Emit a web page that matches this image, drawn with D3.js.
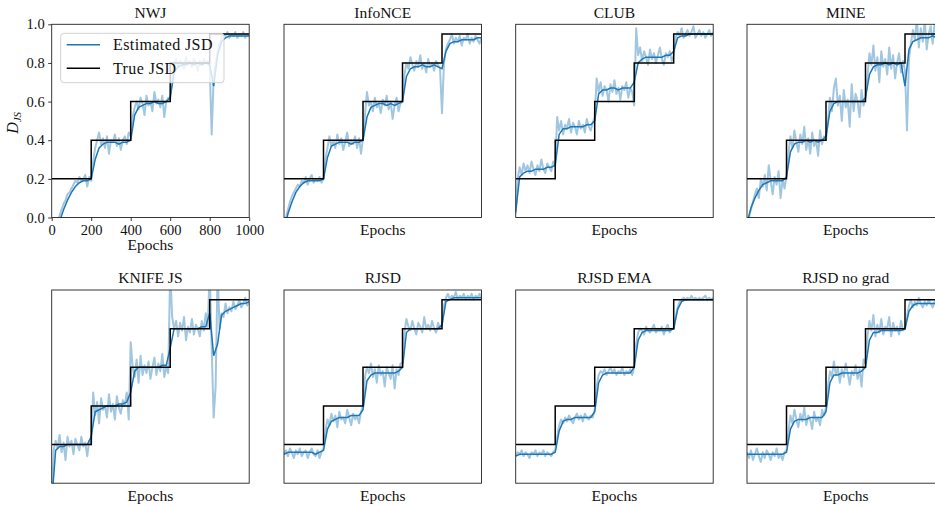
<!DOCTYPE html>
<html>
<head>
<meta charset="utf-8">
<script src="https://cdn.jsdelivr.net/npm/d3@7"></script>
<style>
  body { margin: 0; background: #fff; }
  text { font-family: "Liberation Serif", "DejaVu Serif", serif; fill: #111; }
</style>
</head>
<body>
<script>
// raw estimates every 10 epochs, smoothed every 20 epochs
var rawEpochs = d3.range(0, 1001, 10);
var smoothEpochs = d3.range(0, 1001, 20);
var trueEpochs = [0, 200, 400, 600, 800, 1000];
var trueJSD = [0.2, 0.4, 0.6, 0.8, 0.95, 0.95];

var titles = ["NWJ", "InfoNCE", "CLUB", "MINE", "KNIFE JS", "RJSD", "RJSD EMA", "RJSD no grad"];
var xTicks = [0, 200, 400, 600, 800, 1000];
var yTicks = [0, 0.2, 0.4, 0.6, 0.8, 1.0];

var nwjRaw = [
  -0.12,-0.08,-0.05,-0.02,0.01,0.04,0.07,0.09,0.12,0.13,0.15,0.17,0.19,0.18,0.21,0.19,0.2,0.22,0.16,0.21,
  0.19,0.29,0.36,0.4,0.44,0.38,0.41,0.36,0.42,0.33,0.4,0.39,0.43,0.37,0.41,0.35,0.4,0.42,0.38,0.44,
  0.42,0.52,0.57,0.6,0.56,0.62,0.59,0.53,0.63,0.58,0.6,0.55,0.65,0.59,0.61,0.57,0.63,0.52,0.6,0.62,
  0.61,0.74,0.79,0.82,0.78,0.81,0.8,0.77,0.83,0.79,0.81,0.78,0.82,0.8,0.76,0.81,0.79,0.82,0.8,0.81,
  0.78,0.43,0.72,0.8,0.86,0.9,0.93,0.95,0.94,0.96,0.93,0.95,0.94,0.96,0.93,0.95,0.94,0.96,0.93,0.95,0.94];
var nwjSmooth = [
  -0.2,-0.1,-0.02,0.04,0.09,0.13,0.16,0.18,0.19,0.19,
  0.2,0.3,0.36,0.38,0.39,0.39,0.39,0.38,0.39,0.39,
  0.4,0.53,0.57,0.58,0.59,0.59,0.6,0.59,0.59,0.6,
  0.62,0.75,0.78,0.79,0.79,0.8,0.79,0.8,0.79,0.8,
  0.79,0.68,0.84,0.91,0.93,0.94,0.94,0.94,0.94,0.94,0.94];

var infonceRaw = [
  -0.05,0.0,0.04,0.08,0.11,0.13,0.15,0.17,0.16,0.19,0.18,0.21,0.17,0.2,0.22,0.18,0.2,0.19,0.21,0.18,
  0.2,0.3,0.36,0.42,0.37,0.4,0.36,0.43,0.38,0.41,0.35,0.39,0.44,0.37,0.4,0.38,0.42,0.36,0.41,0.33,
  0.41,0.53,0.65,0.58,0.6,0.55,0.62,0.57,0.59,0.54,0.61,0.58,0.63,0.56,0.6,0.51,0.58,0.62,0.55,0.59,
  0.6,0.74,0.8,0.77,0.83,0.79,0.76,0.81,0.78,0.84,0.77,0.8,0.75,0.82,0.78,0.8,0.76,0.81,0.79,0.77,
  0.54,0.8,0.87,0.9,0.92,0.95,0.9,0.93,0.91,0.94,0.89,0.93,0.92,0.95,0.9,0.93,0.91,0.94,0.92,0.9,0.93];
var infonceSmooth = [
  -0.08,0.02,0.08,0.13,0.16,0.18,0.19,0.19,0.19,0.19,
  0.2,0.31,0.37,0.38,0.39,0.39,0.39,0.38,0.39,0.39,
  0.4,0.52,0.57,0.58,0.59,0.59,0.58,0.59,0.58,0.59,
  0.6,0.73,0.77,0.78,0.78,0.79,0.78,0.78,0.79,0.78,
  0.77,0.86,0.9,0.91,0.91,0.92,0.92,0.92,0.92,0.93,0.93];

var clubRaw = [
  0.02,0.2,0.26,0.22,0.28,0.24,0.27,0.23,0.29,0.25,0.22,0.27,0.24,0.3,0.25,0.23,0.28,0.26,0.24,0.29,
  0.27,0.52,0.45,0.5,0.43,0.48,0.46,0.51,0.44,0.49,0.47,0.43,0.5,0.46,0.48,0.44,0.51,0.47,0.45,0.49,
  0.52,0.72,0.65,0.7,0.63,0.68,0.66,0.6,0.69,0.65,0.71,0.64,0.67,0.61,0.68,0.66,0.7,0.62,0.67,0.65,
  0.58,0.98,0.84,0.88,0.81,0.86,0.83,0.79,0.87,0.82,0.85,0.8,0.84,0.88,0.82,0.79,0.85,0.83,0.86,0.81,
  0.84,0.93,0.96,0.94,0.98,0.93,0.95,0.97,0.94,0.96,0.99,0.93,0.95,0.97,0.94,0.96,0.93,0.95,0.97,0.94,0.96];
var clubSmooth = [
  0.03,0.21,0.23,0.24,0.24,0.25,0.25,0.25,0.26,0.26,
  0.27,0.43,0.46,0.46,0.47,0.47,0.47,0.47,0.48,0.48,
  0.5,0.64,0.66,0.66,0.67,0.67,0.66,0.67,0.67,0.67,
  0.7,0.8,0.82,0.83,0.83,0.83,0.83,0.83,0.84,0.84,
  0.86,0.93,0.94,0.94,0.95,0.95,0.95,0.95,0.95,0.95,0.95];

var mineRaw = [
  -0.06,0.0,0.04,0.08,0.12,0.15,0.1,0.2,0.16,0.22,0.14,0.27,0.19,0.12,0.21,0.17,0.24,0.1,0.2,0.15,
  0.22,0.33,0.42,0.36,0.45,0.39,0.34,0.43,0.38,0.47,0.35,0.41,0.33,0.44,0.37,0.4,0.32,0.45,0.38,0.42,
  0.4,0.5,0.62,0.55,0.67,0.72,0.58,0.63,0.5,0.66,0.57,0.61,0.47,0.69,0.55,0.64,0.6,0.52,0.66,0.58,
  0.62,0.73,0.85,0.79,0.89,0.76,0.83,0.7,0.86,0.78,0.82,0.74,0.88,0.77,0.84,0.72,0.8,0.85,0.75,0.81,
  0.76,0.45,0.82,0.9,0.97,0.92,1.03,0.88,0.98,0.91,1.02,0.87,0.95,0.99,0.9,1.01,0.93,0.96,0.89,1.0,0.94];
var mineSmooth = [
  -0.03,0.05,0.1,0.14,0.17,0.18,0.19,0.19,0.19,0.19,
  0.21,0.34,0.38,0.39,0.39,0.4,0.39,0.4,0.39,0.4,
  0.42,0.55,0.59,0.6,0.6,0.6,0.6,0.6,0.6,0.6,
  0.62,0.74,0.78,0.79,0.79,0.8,0.79,0.8,0.79,0.8,
  0.68,0.87,0.91,0.92,0.93,0.93,0.93,0.94,0.93,0.94,0.94];

var knifeRaw = [
  -0.1,0.17,0.22,0.18,0.25,0.16,0.21,0.12,0.24,0.19,0.22,0.15,0.23,0.2,0.17,0.24,0.19,0.21,0.14,0.22,
  0.2,0.47,0.35,0.42,0.31,0.44,0.38,0.4,0.34,0.46,0.37,0.41,0.33,0.45,0.39,0.36,0.43,0.4,0.47,0.33,
  0.73,0.6,0.55,0.64,0.52,0.66,0.56,0.61,0.57,0.63,0.54,0.6,0.65,0.56,0.62,0.58,0.67,0.55,0.6,0.57,
  1.1,0.86,0.8,0.84,0.76,0.83,0.79,0.86,0.74,0.81,0.78,0.85,0.77,0.82,0.8,0.76,0.84,0.79,0.88,0.81,
  1.1,0.7,0.34,0.5,1.1,0.8,0.88,0.86,0.93,0.88,0.91,0.89,0.94,0.9,0.92,0.95,0.91,0.93,0.96,0.92,0.94];
var knifeSmooth = [
  -0.1,0.17,0.19,0.19,0.2,0.2,0.2,0.2,0.2,0.2,
  0.24,0.37,0.38,0.39,0.4,0.4,0.4,0.41,0.41,0.42,
  0.47,0.58,0.6,0.6,0.6,0.6,0.6,0.6,0.61,0.61,
  0.7,0.8,0.8,0.8,0.8,0.8,0.8,0.8,0.81,0.81,
  0.88,0.66,0.72,0.87,0.89,0.9,0.91,0.92,0.93,0.93,0.94];

var rjsdRaw = [
  0.15,0.17,0.14,0.18,0.16,0.13,0.17,0.15,0.18,0.14,0.16,0.17,0.13,0.16,0.18,0.15,0.14,0.17,0.13,0.16,
  0.18,0.27,0.33,0.3,0.36,0.32,0.35,0.29,0.37,0.33,0.34,0.31,0.38,0.34,0.3,0.36,0.33,0.35,0.31,0.37,
  0.4,0.55,0.6,0.57,0.62,0.55,0.59,0.52,0.61,0.56,0.58,0.5,0.6,0.57,0.54,0.61,0.49,0.59,0.56,0.62,
  0.62,0.78,0.85,0.81,0.79,0.84,0.8,0.77,0.83,0.81,0.78,0.86,0.8,0.82,0.79,0.84,0.8,0.78,0.83,0.8,
  0.82,0.92,0.96,0.98,0.95,0.97,0.96,0.99,0.95,0.97,0.96,0.98,0.95,0.97,0.96,0.98,0.95,0.97,0.96,0.98,0.96];
var rjsdSmooth = [
  0.15,0.16,0.16,0.16,0.16,0.16,0.16,0.16,0.15,0.16,
  0.17,0.28,0.32,0.33,0.34,0.34,0.34,0.35,0.35,0.35,
  0.38,0.53,0.56,0.57,0.57,0.57,0.57,0.57,0.57,0.58,
  0.6,0.78,0.8,0.8,0.8,0.8,0.8,0.8,0.8,0.8,
  0.82,0.94,0.95,0.96,0.96,0.96,0.96,0.96,0.96,0.96,0.96];

var emaRaw = [
  0.14,0.16,0.15,0.17,0.14,0.16,0.15,0.13,0.16,0.15,0.17,0.14,0.16,0.15,0.17,0.14,0.16,0.15,0.14,0.16,
  0.17,0.24,0.3,0.33,0.31,0.34,0.32,0.35,0.33,0.31,0.34,0.36,0.33,0.35,0.32,0.36,0.34,0.33,0.35,0.34,
  0.38,0.5,0.56,0.58,0.57,0.59,0.56,0.58,0.6,0.57,0.59,0.56,0.58,0.57,0.6,0.56,0.58,0.57,0.59,0.56,
  0.6,0.72,0.78,0.8,0.79,0.77,0.81,0.79,0.78,0.8,0.82,0.78,0.8,0.79,0.81,0.77,0.8,0.82,0.78,0.8,
  0.8,0.86,0.91,0.94,0.95,0.96,0.95,0.96,0.95,0.97,0.95,0.96,0.95,0.96,0.95,0.96,0.97,0.95,0.96,0.95,0.96];
var emaSmooth = [
  0.14,0.15,0.15,0.15,0.15,0.15,0.15,0.15,0.15,0.15,
  0.16,0.27,0.32,0.33,0.33,0.34,0.34,0.34,0.34,0.34,
  0.37,0.52,0.56,0.57,0.57,0.57,0.57,0.57,0.57,0.57,
  0.6,0.74,0.78,0.79,0.79,0.79,0.79,0.79,0.79,0.79,
  0.8,0.9,0.94,0.95,0.95,0.95,0.95,0.95,0.95,0.95,0.95];

var noGradRaw = [
  0.16,0.13,0.17,0.12,0.15,0.18,0.14,0.11,0.16,0.13,0.17,0.15,0.12,0.16,0.14,0.18,0.13,0.15,0.12,0.16,
  0.17,0.27,0.35,0.31,0.38,0.33,0.29,0.36,0.32,0.39,0.3,0.35,0.33,0.28,0.37,0.32,0.34,0.3,0.38,0.35,
  0.39,0.5,0.58,0.55,0.63,0.56,0.6,0.52,0.59,0.55,0.62,0.57,0.51,0.58,0.56,0.61,0.54,0.59,0.5,0.64,
  0.62,0.76,0.84,0.79,0.87,0.76,0.82,0.78,0.85,0.77,0.81,0.8,0.86,0.76,0.83,0.79,0.81,0.77,0.84,0.79,
  0.8,0.86,0.92,0.95,0.91,0.94,0.92,0.96,0.93,0.91,0.94,0.92,0.95,0.93,0.91,0.94,0.92,0.95,0.93,0.92,0.94];
var noGradSmooth = [
  0.15,0.15,0.15,0.15,0.15,0.15,0.15,0.15,0.15,0.15,
  0.16,0.28,0.32,0.33,0.33,0.33,0.34,0.34,0.34,0.34,
  0.37,0.52,0.56,0.56,0.57,0.57,0.57,0.57,0.57,0.58,
  0.6,0.74,0.78,0.78,0.79,0.79,0.79,0.79,0.79,0.79,
  0.8,0.89,0.92,0.93,0.93,0.93,0.93,0.93,0.93,0.93,0.93];

var rawSeries = [nwjRaw, infonceRaw, clubRaw, mineRaw, knifeRaw, rjsdRaw, emaRaw, noGradRaw];
var smoothSeries = [nwjSmooth, infonceSmooth, clubSmooth, mineSmooth, knifeSmooth, rjsdSmooth, emaSmooth, noGradSmooth];

var w = 935, h = 506;
var colLeft = [51.7, 284, 515.7, 747],
    rowTop = [24.3, 290],
    pw = 197.5,
    ph = 193.2;
var blue = "#1f77b4";
var serif = "'Liberation Serif', 'DejaVu Serif', serif";

var svg = d3.select("body")
  .append("svg")
  .attr("width", w)
  .attr("height", h)
  .attr("font-family", serif);

var xScale = d3.scaleLinear().domain([0, 1000]).range([0, pw]);
var yScale = d3.scaleLinear().domain([0, 1]).range([ph, 0]);

var line = d3.line()
  .x(function(d) { return xScale(d[0]); })
  .y(function(d) { return yScale(d[1]); });
var stepLine = d3.line()
  .x(function(d) { return xScale(d[0]); })
  .y(function(d) { return yScale(d[1]); })
  .curve(d3.curveStepAfter);

titles.forEach(function(title, k) {
  var col = k % 4, row = Math.floor(k / 4);
  var g = svg.append("g")
    .attr("transform", "translate(" + colLeft[col] + "," + rowTop[row] + ")");

  g.append("clipPath").attr("id", "clip" + k)
    .append("rect").attr("width", pw).attr("height", ph);

  var plot = g.append("g").attr("clip-path", "url(#clip" + k + ")");

  plot.append("path")
    .datum(rawEpochs.map(function(e, i) { return [e, rawSeries[k][i]]; }))
    .attr("d", line)
    .attr("fill", "none")
    .attr("stroke", blue)
    .attr("stroke-opacity", 0.42)
    .attr("stroke-width", 2)
    .attr("stroke-linejoin", "round");

  plot.append("path")
    .datum(smoothEpochs.map(function(e, i) { return [e, smoothSeries[k][i]]; }))
    .attr("d", line)
    .attr("fill", "none")
    .attr("stroke", blue)
    .attr("stroke-width", 1.5);

  plot.append("path")
    .datum(trueEpochs.map(function(e, i) { return [e, trueJSD[i]]; }))
    .attr("d", stepLine)
    .attr("fill", "none")
    .attr("stroke", "#000")
    .attr("stroke-width", 1.5);

  g.append("rect")
    .attr("width", pw)
    .attr("height", ph)
    .attr("fill", "none")
    .attr("stroke", "#222")
    .attr("stroke-width", 0.9);

  g.append("text")
    .attr("x", pw / 2)
    .attr("y", -6.8)
    .attr("text-anchor", "middle")
    .attr("font-size", "15.5px")
    .text(title);

  g.append("text")
    .attr("x", pw / 2)
    .attr("y", k === 0 ? ph + 33 : ph + 17.5)
    .attr("text-anchor", "middle")
    .attr("font-size", "15.5px")
    .text("Epochs");

  if (k === 0) {
    var xAxis = d3.axisBottom(xScale).tickValues(xTicks).tickSize(3.5).tickPadding(3.5)
      .tickFormat(d3.format("d"));
    var yAxis = d3.axisLeft(yScale).tickValues(yTicks).tickSize(3.5).tickPadding(3.5)
      .tickFormat(d3.format(".1f"));
    var ax = g.append("g").attr("transform", "translate(0," + ph + ")").call(xAxis);
    var ay = g.append("g").call(yAxis);
    [ax, ay].forEach(function(a) {
      a.attr("font-family", serif);
      a.select(".domain").remove();
      a.selectAll("line").attr("stroke", "#222").attr("stroke-width", 0.9);
      a.selectAll("text").attr("font-size", "14.5px").attr("fill", "#111");
    });

    var yl = g.append("text")
      .attr("transform", "translate(-34," + (ph / 2 + 2) + ") rotate(-90)")
      .attr("text-anchor", "middle")
      .attr("font-size", "16px");
    yl.append("tspan").attr("font-style", "italic").text("D");
    yl.append("tspan").attr("font-style", "italic").attr("font-size", "11px")
      .attr("dy", 3.5).text("JS");

    // legend
    var lg = g.append("g").attr("transform", "translate(9,9)");
    lg.append("rect")
      .attr("width", 163.3)
      .attr("height", 49.4)
      .attr("rx", 3)
      .attr("fill", "#fff")
      .attr("fill-opacity", 0.8)
      .attr("stroke", "#ccc")
      .attr("stroke-width", 0.9);
    var entries = [["Estimated JSD", blue], ["True JSD", "#000"]];
    entries.forEach(function(en, i) {
      lg.append("line")
        .attr("x1", 6).attr("x2", 39.3)
        .attr("y1", 11.4 + i * 23.5).attr("y2", 11.4 + i * 23.5)
        .attr("stroke", en[1]).attr("stroke-width", 1.5);
      lg.append("text")
        .attr("x", 52.3)
        .attr("y", 16.8 + i * 23.5)
        .attr("font-size", "16px")
        .attr("letter-spacing", "0.4px")
        .text(en[0]);
    });
  }
});
</script>
</body>
</html>
